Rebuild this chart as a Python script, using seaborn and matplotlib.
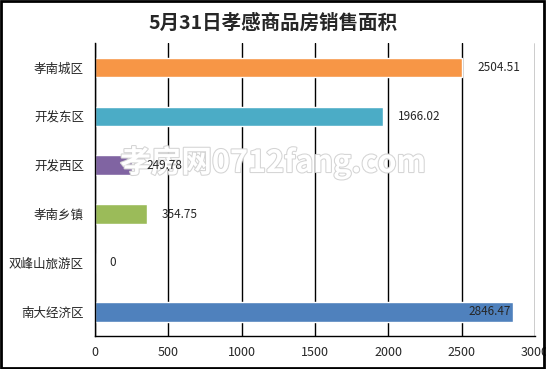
import pandas as pd
import matplotlib
matplotlib.use("Agg")
import matplotlib.pyplot as plt
import matplotlib.patheffects as pe
import seaborn as sns

# chart data
categories = ["孝南城区", "开发东区", "开发西区", "孝南乡镇", "双峰山旅游区", "南大经济区"]
areas = [2504.51, 1966.02, 249.78, 354.75, 0, 2846.47]
colors = ["#F79646", "#4BACC6", "#8064A2", "#9BBB59", "#C0504D", "#4F81BD"]
xticks = [0, 500, 1000, 1500, 2000, 2500, 3000]

df = pd.DataFrame({"region": categories, "area": areas})

sns.set_style("white")
plt.rcParams['font.family'] = ['Noto Sans CJK SC', 'DejaVu Sans']

fig = plt.figure(figsize=(5.46, 3.69), dpi=100)
ax = fig.add_axes([0.174, 0.089, 0.806, 0.794])

sns.barplot(data=df, x="area", y="region", hue="region", palette=colors,
            order=categories, width=0.4, legend=False, ax=ax, saturation=1)

ax.set_xlim(0, 3000)
ax.set_xticks(xticks)
ax.set_xticklabels([str(t) for t in xticks], fontsize=9)
ax.set_xlabel("")
ax.set_ylabel("")
ax.tick_params(axis='y', labelsize=9, length=0, pad=8)
ax.tick_params(axis='x', length=4, direction='out', color='black', pad=3)
ax.xaxis.grid(True, color='black', linewidth=1)
ax.set_axisbelow(True)
for s in ["top", "right"]:
    ax.spines[s].set_visible(False)
for s in ["left", "bottom"]:
    ax.spines[s].set_color('black')
    ax.spines[s].set_linewidth(1)

# category separator ticks on the y axis
ax.set_yticks([i + 0.5 for i in range(-1, len(categories))], minor=True)
ax.tick_params(axis='y', which='minor', length=5, direction='out', color='black')
ax.set_ylim(len(categories) - 0.5, -0.5)

# watermark (under the value labels)
ax.text(0.5, 0.56, "孝房网0712fang.com", ha='center', va='center', fontsize=22,
        color='white', fontweight='bold', transform=fig.transFigure, zorder=1.5,
        path_effects=[pe.withStroke(linewidth=1.5, foreground='#d4d4d4')])

# value labels
for i, v in enumerate(areas):
    label = f"{v:g}" if v == 0 else f"{v:.2f}"
    if v > 2700:
        ax.text(v - 10, i, label, va='center', ha='right', fontsize=8.5, zorder=3)
    else:
        ax.text(v + 100, i, label, va='center', ha='left', fontsize=8.5, zorder=3)

fig.suptitle("5月31日孝感商品房销售面积", y=0.965, fontsize=14, fontweight='bold')

# figure border
fig.patches.append(plt.Rectangle((0.002, 0.004), 0.994, 0.993, transform=fig.transFigure,
                                 fill=False, edgecolor='black', linewidth=2))

fig.savefig("out.png", dpi=100)
